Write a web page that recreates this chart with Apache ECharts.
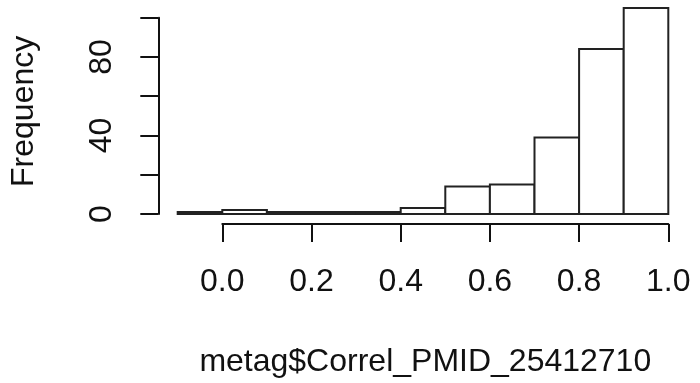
<!DOCTYPE html>
<html>
<head>
<meta charset="utf-8">
<script src="https://cdn.jsdelivr.net/npm/echarts@6/dist/echarts.min.js"></script>
<style>
  html, body { margin: 0; padding: 0; background: #fff; }
  #chart { width: 700px; height: 383px; }
</style>
</head>
<body>
<div id="chart"></div>
<script>
// Histogram of metag$Correl_PMID_25412710, bins of width 0.1
const binLeft  = [-0.1, 0.0, 0.1, 0.2, 0.3, 0.4, 0.5, 0.6, 0.7, 0.8, 0.9];
const binRight = [0.0, 0.1, 0.2, 0.3, 0.4, 0.5, 0.6, 0.7, 0.8, 0.9, 1.0];
const counts   = [1, 2, 1, 1, 1, 3, 14, 15, 39, 84, 105];
// Frequency ticks every 20, labels only where they fit
const yTickShown = [0, 40, 80];

const FONT = '"Liberation Sans", Arial, sans-serif';
const INK = '#111';

const bars = binLeft.map((l, i) => [l, binRight[i], counts[i]]);

const chart = echarts.init(document.getElementById('chart'), null, { renderer: 'canvas' });
chart.setOption({
  animation: false,
  backgroundColor: '#fff',
  grid: { left: 222.3, right: 31.7, top: 17.7, bottom: 166.3, containLabel: false },
  xAxis: {
    type: 'value',
    min: 0, max: 1, interval: 0.2,
    offset: 10,
    splitLine: { show: false },
    axisLine: { show: true, onZero: false, lineStyle: { color: INK, width: 2 } },
    axisTick: { show: true, length: 18, inside: false, lineStyle: { color: INK, width: 2 } },
    axisLabel: {
      margin: 42,
      color: INK, fontFamily: FONT, fontSize: 32,
      formatter: v => v.toFixed(1)
    },
    name: 'metag$Correl_PMID_25412710',
    nameLocation: 'middle',
    nameGap: 122,
    nameTextStyle: { color: INK, fontFamily: FONT, fontSize: 32, padding: [0, 40, 0, 0] }
  },
  yAxis: {
    type: 'value',
    min: 0, max: 100, interval: 20,
    offset: 64,
    splitLine: { show: false },
    axisLine: { show: true, onZero: false, lineStyle: { color: INK, width: 2 } },
    axisTick: { show: true, length: 18, inside: false, lineStyle: { color: INK, width: 2 } },
    axisLabel: {
      margin: 40, rotate: 90,
      color: INK, fontFamily: FONT, fontSize: 32,
      formatter: v => (yTickShown.indexOf(v) >= 0 ? String(v) : '')
    },
    name: 'Frequency',
    nameLocation: 'middle',
    nameRotate: 90,
    nameGap: 118,
    nameTextStyle: { color: INK, fontFamily: FONT, fontSize: 32, padding: [0, 0, 0, 9] }
  },
  series: [{
    type: 'custom',
    clip: false,
    data: bars,
    encode: { x: [0, 1], y: 2 },
    renderItem: (params, api) => {
      const p0 = api.coord([api.value(0), 0]);
      const p1 = api.coord([api.value(1), api.value(2)]);
      return {
        type: 'rect',
        shape: { x: p0[0], y: p1[1], width: p1[0] - p0[0], height: p0[1] - p1[1] },
        style: { fill: '#fff', stroke: '#222', lineWidth: 2 }
      };
    }
  }]
});
</script>
</body>
</html>
